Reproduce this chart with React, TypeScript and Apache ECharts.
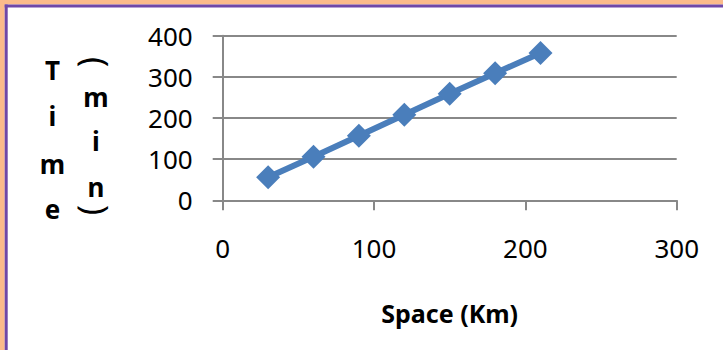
import React, { useEffect, useRef } from "react";
import * as echarts from "echarts";

const spaceKm = [30, 60, 90, 120, 150, 180, 210];
const timeMin = [56, 106, 157, 208, 259, 309, 358];
const xTicks = { min: 0, max: 300, interval: 100 };
const yTicks = { min: 0, max: 400, interval: 100 };
const xTitle = "Space (Km)";
const yTitleCol1 = ["T", "i", "m", "e"];
const yTitleCol2 = ["(", "m", "i", "n", ")"];

const FONT = "'Noto Sans', sans-serif";
const GRID_COLOR = "#888888";
const LINE_COLOR = "#4a7ebb";

export default function App() {
  const ref = useRef<HTMLDivElement>(null);
  useEffect(() => {
    if (!ref.current) return;
    const chart = echarts.init(ref.current, null, { renderer: "svg" });
    const col1Y = [70, 116, 164, 209];
    const col2Y = [62, 97, 141, 187, 210];
    const graphic: any[] = [
      { type: "rect", shape: { x: 0, y: 0, width: 723, height: 4.5 }, style: { fill: "#fbbb8b" }, silent: true },
      { type: "rect", shape: { x: 0, y: 0, width: 4.7, height: 350 }, style: { fill: "#fbbb8b" }, silent: true },
      { type: "rect", shape: { x: 4.7, y: 4.5, width: 718.3, height: 3 }, style: { fill: "#6f48a8" }, silent: true },
      { type: "rect", shape: { x: 4.7, y: 4.5, width: 3, height: 345.5 }, style: { fill: "#6f48a8" }, silent: true },
    ];
    yTitleCol1.forEach((ch, i) => {
      graphic.push({
        type: "text",
        x: 52.5,
        y: col1Y[i],
        style: {
          text: ch,
          font: `bold 26px ${FONT}`,
          fill: "#000",
          align: "center",
          verticalAlign: "middle",
        },
      });
    });
    yTitleCol2.forEach((ch, i) => {
      const paren = ch === "(" || ch === ")";
      graphic.push({
        type: "text",
        x: 96,
        y: col2Y[i],
        rotation: paren ? -Math.PI / 2 : 0,
        style: {
          text: ch,
          font: paren ? `34px ${FONT}` : `bold 26px ${FONT}`,
          fill: "#000",
          align: "center",
          verticalAlign: "middle",
        },
      });
    });
    chart.setOption({
      animation: false,
      backgroundColor: "#ffffff",
      grid: { left: 222.7, right: 46.3, top: 35.7, bottom: 149.7 },
      xAxis: {
        type: "value",
        min: xTicks.min,
        max: xTicks.max,
        interval: xTicks.interval,
        name: xTitle,
        nameLocation: "middle",
        nameGap: 100,
        nameTextStyle: { fontFamily: FONT, fontSize: 25, fontWeight: "bold", color: "#000" },
        axisLine: { show: true, lineStyle: { color: GRID_COLOR, width: 2 } },
        axisTick: { show: true, length: 10, lineStyle: { color: GRID_COLOR, width: 2 } },
        axisLabel: { margin: 35, fontFamily: FONT, fontSize: 26, color: "#000" },
        splitLine: { show: false },
      },
      yAxis: {
        type: "value",
        min: yTicks.min,
        max: yTicks.max,
        interval: yTicks.interval,
        axisLine: { show: true, lineStyle: { color: GRID_COLOR, width: 2 } },
        axisTick: { show: true, length: 10, lineStyle: { color: GRID_COLOR, width: 2 } },
        axisLabel: { margin: 30, fontFamily: FONT, fontSize: 26, color: "#000" },
        splitLine: { show: true, lineStyle: { color: GRID_COLOR, width: 2 } },
      },
      graphic,
      series: [
        {
          type: "line",
          data: spaceKm.map((x, i) => [x, timeMin[i]]),
          symbol: "diamond",
          symbolSize: 24,
          lineStyle: { color: LINE_COLOR, width: 6 },
          itemStyle: { color: LINE_COLOR },
        },
      ],
    });
    return () => chart.dispose();
  }, []);
  return (
    <div
      ref={ref}
      style={{ position: "fixed", left: 0, top: 0, width: 723, height: 350, background: "#fff" }}
    />
  );
}
